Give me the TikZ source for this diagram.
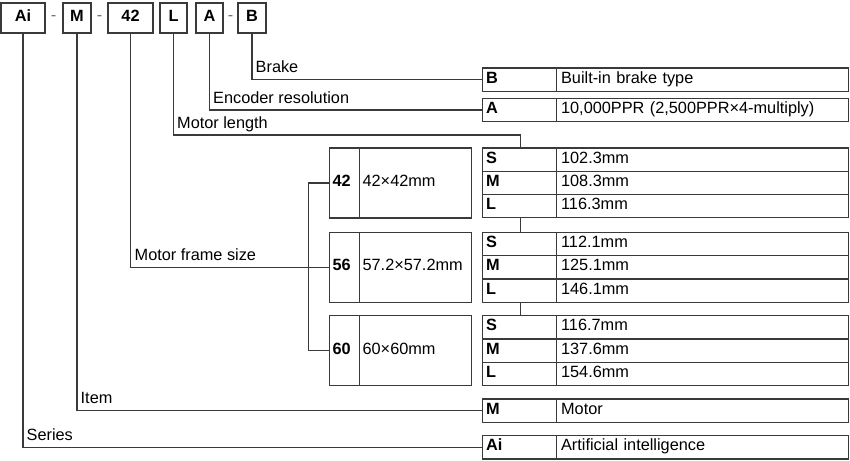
\documentclass[tikz,border=0pt]{standalone}
\usepackage{fontspec}
\setmainfont{Liberation Sans}
\definecolor{lc}{HTML}{3A3A3A}
\definecolor{dc}{HTML}{707070}
\begin{document}
\begin{tikzpicture}[x=1pt,y=-1pt,
  every node/.style={font=\fontsize{16.3}{19}\selectfont},
  ln/.style={line width=1.2pt, draw=lc},
  cellbase/.style={draw=lc, line width=1.2pt, inner ysep=0pt, anchor=north west,
    text height=0.716em, text depth=0pt, align=left},
  codecell/.style={cellbase, inner xsep=3.5pt, minimum width=74pt, text width=67pt,
    minimum height=23.3pt, font=\fontsize{16.3}{19}\selectfont\bfseries},
  desccell/.style={cellbase, inner xsep=4.5pt, minimum width=292pt, text width=283pt,
    minimum height=23.3pt},
  fcode/.style={cellbase, inner xsep=3pt, minimum width=30pt, text width=24pt,
    minimum height=70pt, font=\fontsize{16.3}{19}\selectfont\bfseries},
  fdesc/.style={cellbase, inner xsep=3pt, minimum width=112pt, text width=106pt,
    minimum height=70pt},
  topbox/.style={draw=lc, line width=1.2pt, inner sep=0pt, minimum height=30pt,
    text height=0.716em, text depth=0pt, font=\fontsize{16.3}{19}\selectfont\bfseries},
  dashtxt/.style={text=dc, inner sep=0pt},
  lab/.style={anchor=base west, inner sep=0pt}
]
\useasboundingbox (0,0) rectangle (850,460);

% top code boxes
\node[topbox, minimum width=44pt] (tAi) at (23,18) {Ai};
\node[dashtxt] (d1) at (53.5,18) {-};
\node[topbox, minimum width=28pt] (tM) at (77,18) {M};
\node[dashtxt] (d2) at (99.5,18) {-};
\node[topbox, minimum width=45pt] (t42) at (130.5,18) {42};
\node[topbox, minimum width=27pt] (tL) at (173.5,18) {L};
\node[topbox, minimum width=27pt] (tA) at (209.5,18) {A};
\node[dashtxt] (d3) at (230.5,18) {-};
\node[topbox, minimum width=28pt] (tB) at (252,18) {B};

% right table
\node[codecell] (rB) at (482,67.3) {B};
\node[desccell] (rBd) at (556,67.3) {Built-in brake type};
\node[codecell] (rA) at (482,97.7) {A};
\node[desccell] (rAd) at (556,97.7) {10,000PPR (2,500PPR×4-multiply)};

\node[codecell] (g1S) at (482,147.3) {S};
\node[desccell] (g1Sd) at (556,147.3) {102.3mm};
\node[codecell] (g1M) at (482,170.6) {M};
\node[desccell] (g1Md) at (556,170.6) {108.3mm};
\node[codecell] (g1L) at (482,193.9) {L};
\node[desccell] (g1Ld) at (556,193.9) {116.3mm};

\node[codecell] (g2S) at (482,231.7) {S};
\node[desccell] (g2Sd) at (556,231.7) {112.1mm};
\node[codecell] (g2M) at (482,255.0) {M};
\node[desccell] (g2Md) at (556,255.0) {125.1mm};
\node[codecell] (g2L) at (482,278.3) {L};
\node[desccell] (g2Ld) at (556,278.3) {146.1mm};

\node[codecell] (g3S) at (482,315.0) {S};
\node[desccell] (g3Sd) at (556,315.0) {116.7mm};
\node[codecell] (g3M) at (482,338.3) {M};
\node[desccell] (g3Md) at (556,338.3) {137.6mm};
\node[codecell] (g3L) at (482,361.6) {L};
\node[desccell] (g3Ld) at (556,361.6) {154.6mm};

\node[codecell] (rM) at (482,398.3) {M};
\node[desccell] (rMd) at (556,398.3) {Motor};
\node[codecell] (rAi) at (482,435.0) {Ai};
\node[desccell] (rAid) at (556,435.0) {Artificial intelligence};

% frame size boxes
\node[fcode] (f42) at (329,147.3) {42};
\node[fdesc] (f42d) at (359,147.3) {42×42mm};
\node[fcode] (f56) at (329,231.7) {56};
\node[fdesc] (f56d) at (359,231.7) {57.2×57.2mm};
\node[fcode] (f60) at (329,315.0) {60};
\node[fdesc] (f60d) at (359,315.0) {60×60mm};

% connectors
\coordinate (Lc) at (520.5,135);
\draw[ln] (tAi.south) |- (rAi.west);
\draw[ln] (tM.south) |- (rM.west);
\draw[ln] (t42.south) |- (f56.west);
\draw[ln] (tL.south) |- (Lc) -- (Lc |- g1S.north);
\draw[ln] (tA.south) |- (rA.west);
\draw[ln] (tB.south) |- (rB.west);
\draw[ln] (Lc |- g1L.south) -- (Lc |- g2S.north);
\draw[ln] (Lc |- g2L.south) -- (Lc |- g3S.north);
\draw[ln] (f42.west) -- ++(-20.5,0) |- (f60.west);

% labels
\node[lab] (lbB) at (255.5,72.6) {Brake};
\node[lab] (lbA) at (213,103) {Encoder resolution};
\node[lab] (lbL) at (177,128.6) {Motor length};
\node[lab] (lbF) at (134.5,260) {Motor frame size};
\node[lab] (lbI) at (80.5,403.6) {Item};
\node[lab] (lbS) at (26.5,440.3) {Series};
\end{tikzpicture}
\end{document}
